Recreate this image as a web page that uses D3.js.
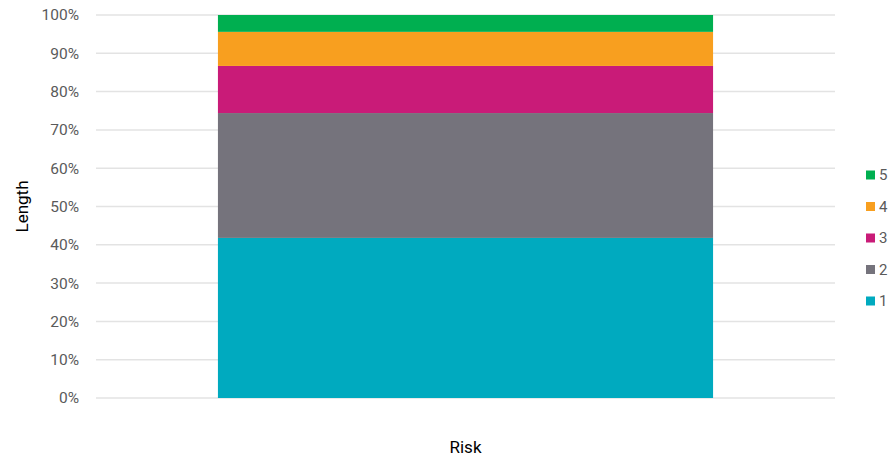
<!DOCTYPE html>
<html><head><meta charset="utf-8">
<script src="https://cdn.jsdelivr.net/npm/d3@7"></script>
<style>body{margin:0;background:#fff;}svg{display:block;font-family:Roboto,sans-serif;}</style>
</head><body><svg id="c" width="888" height="461"></svg>
<script>
const categories = [""];
const seriesNames = ["1","2","3","4","5"];
const seriesValues = [41.8, 32.6, 12.3, 8.9, 4.4];
const seriesColors = ["#00aabf","#75737c","#c91b78","#f89f1f","#00af50"];
const tickValues = [0,10,20,30,40,50,60,70,80,90,100];

const svg = d3.select("#c");
const m = {l:96, r:835, t:15, b:398};
const x = d3.scaleBand().domain(categories).range([m.l, m.r]).paddingInner(0.33).paddingOuter(0.165);
const y = d3.scaleLinear().domain([0,100]).range([m.b, m.t]);

// grid
svg.append("g").selectAll("line").data(tickValues).join("line")
  .attr("x1", m.l).attr("x2", m.r)
  .attr("y1", d=>y(d)).attr("y2", d=>y(d))
  .attr("stroke","#e3e3e3").attr("stroke-width",1.5);

const yAxis = d3.axisLeft(y).tickValues(tickValues).tickFormat(d=>d+"%").tickSize(0).tickPadding(17);
const ga = svg.append("g").attr("transform",`translate(${m.l},0)`).call(yAxis);
ga.select(".domain").remove();
ga.selectAll("text").attr("font-size",15.5).attr("fill","#5a5a5a").attr("font-family","Roboto,sans-serif");

// stacked
const row = {cat: categories[0]};
seriesNames.forEach((s,i)=>row[s]=seriesValues[i]);
const stack = d3.stack().keys(seriesNames)([row]);
svg.append("g").selectAll("g").data(stack).join("g")
  .attr("fill",(d,i)=>seriesColors[i])
  .selectAll("rect").data(d=>d).join("rect")
  .attr("x", d=>x(d.data.cat)).attr("width", x.bandwidth())
  .attr("y", d=>y(d[1])).attr("height", d=>y(d[0])-y(d[1]));

// axis titles
svg.append("text").attr("x",(m.l+m.r)/2).attr("y",453).attr("text-anchor","middle")
  .attr("font-size",17).attr("fill","#000").text("Risk");
svg.append("text").attr("transform",`translate(28,${(m.t+m.b)/2}) rotate(-90)`).attr("text-anchor","middle")
  .attr("font-size",17).attr("fill","#000").text("Length");

// legend
const leg = svg.append("g");
const order = seriesNames.map((s,i)=>i).reverse();
order.forEach((i,k)=>{
  const yy = 175 + k*31.5;
  leg.append("rect").attr("x",866).attr("y",yy-4.5).attr("width",9).attr("height",9).attr("fill",seriesColors[i]);
  leg.append("text").attr("x",879).attr("y",yy).attr("dy","0.35em").attr("font-size",15).attr("fill","#5a5a5a").text(seriesNames[i]);
});
</script></body></html>
